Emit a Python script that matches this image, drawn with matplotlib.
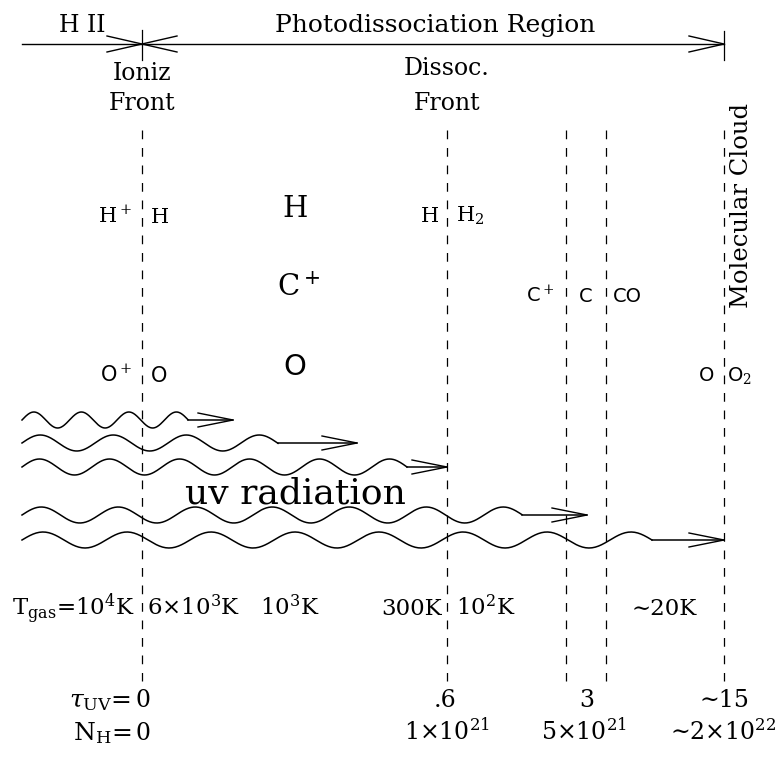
import matplotlib
matplotlib.use("Agg")
import matplotlib.pyplot as plt
import numpy as np

plt.rcParams['font.family'] = ['DejaVu Serif', 'DejaVu Sans']
plt.rcParams['mathtext.fontset'] = 'dejavuserif'

# positions of the fronts along the slab (pixel scale of the sketch)
front_names = ["ioniz", "dissoc", "c_plus_c", "c_co", "mol_cloud"]
front_x = [142, 447, 566, 606, 724]

# uv photons: centre line, wavelength, where the wiggle stops, arrow tip
wave_y = [420, 443, 467, 515, 540]
wave_period = [47.5, 73, 70, 77, 84]
wave_end = [188, 278, 407, 522, 652]
wave_tip = [233, 357, 447, 587, 724]

# temperatures
temp_labels = [r'T$_{\rm gas}$=10$^4$K', r'6$\times$10$^3$K', r'10$^3$K',
               '300K', r'10$^2$K', '\u223c20K']
temp_x = [135, 147, 290, 442, 456, 664]
temp_ha = ['right', 'left', 'center', 'right', 'left', 'center']

# optical depth and column density at the fronts
tau_labels = ['0', '.6', '3', '\u223c15']
tau_x = [143, 445, 587, 724]
nh_labels = ['0', r'1$\times$10$^{21}$', r'5$\times$10$^{21}$', '\u223c2$\\times$10$^{22}$']
nh_x = [143, 447, 584, 723]

fig = plt.figure(figsize=(7.79, 7.58), dpi=100)
ax = fig.add_axes([0, 0, 1, 1])
ax.set_xlim(0, 779)
ax.set_ylim(758, 0)
ax.axis('off')

def head(ax, xt, y, d, L=35, w=8):
    # open arrow head, d=+1 points right, -1 points left
    ax.plot([xt - d*L, xt, xt - d*L], [y - w, y, y + w], color='k', lw=1.0)

# top bar: H II / Photodissociation Region
ax.plot([22, front_x[4]], [44, 44], color='k', lw=1.0)
head(ax, front_x[0], 44, 1)
head(ax, front_x[0], 44, -1)
head(ax, front_x[4], 44, 1)
ax.plot([front_x[0], front_x[0]], [30, 60], color='k', lw=0.9)
ax.plot([front_x[4], front_x[4]], [31, 60], color='k', lw=0.9)
ax.text(82, 32, 'H II', ha='center', va='baseline', fontsize=17)
ax.text(435, 32, 'Photodissociation Region', ha='center', va='baseline', fontsize=18)
ax.text(front_x[0], 80, 'Ioniz', ha='center', va='baseline', fontsize=17)
ax.text(front_x[0], 110, 'Front', ha='center', va='baseline', fontsize=17)
ax.text(front_x[1], 75, 'Dissoc.', ha='center', va='baseline', fontsize=17)
ax.text(front_x[1], 110, 'Front', ha='center', va='baseline', fontsize=17)
ax.text(742, 205, 'Molecular Cloud', ha='center', va='center', rotation=90, fontsize=17.5)

# dashed fronts
for x in front_x:
    ax.plot([x, x], [130, 681], color='k', lw=0.9, dashes=(7, 7))

# uv photons
for yc, P, xe, xt in zip(wave_y, wave_period, wave_end, wave_tip):
    xs = np.linspace(22, xe, 400)
    ys = yc - 8 * np.sin(2 * np.pi * (xs - 22) / P)
    ax.plot(xs, ys, color='k', lw=1.1)
    ax.plot([xe, xt], [yc, yc], color='k', lw=1.1)
    head(ax, xt, yc, 1, L=35, w=7)
ax.text(295, 503, 'uv radiation', ha='center', va='baseline', fontsize=26)

# species
ax.text(132, 223, r'H$^+$', ha='right', va='baseline', fontsize=15)
ax.text(151, 223, 'H', ha='left', va='baseline', fontsize=15)
ax.text(132, 382, r'O$^+$', ha='right', va='baseline', fontsize=15, family='DejaVu Sans')
ax.text(151, 382, 'O', ha='left', va='baseline', fontsize=15, family='DejaVu Sans')
ax.text(295, 217, 'H', ha='center', va='baseline', fontsize=21)
ax.text(277, 296, r'C$^+$', ha='left', va='baseline', fontsize=21)
ax.text(295, 375, 'O', ha='center', va='baseline', fontsize=21, family='DejaVu Sans')
ax.text(439, 222, 'H', ha='right', va='baseline', fontsize=15)
ax.text(456, 222, r'H$_2$', ha='left', va='baseline', fontsize=15)
ax.text(554, 302, r'C$^+$', ha='right', va='baseline', fontsize=14, family='DejaVu Sans')
ax.text(586, 302, 'C', ha='center', va='baseline', fontsize=14, family='DejaVu Sans')
ax.text(613, 302, 'CO', ha='left', va='baseline', fontsize=14, family='DejaVu Sans')
ax.text(714, 381, 'O', ha='right', va='baseline', fontsize=14, family='DejaVu Sans')
ax.text(727, 381, r'O$_2$', ha='left', va='baseline', fontsize=14, family='DejaVu Sans')

# bottom rows
for lab, x, ha in zip(temp_labels, temp_x, temp_ha):
    ax.text(x, 615, lab, ha=ha, va='baseline', fontsize=16.5)
ax.text(131, 707, r'$\tau_{\rm UV}$=', ha='right', va='baseline', fontsize=18)
ax.text(131, 740, r'N$_{\rm H}$=', ha='right', va='baseline', fontsize=18)
for lab, x in zip(tau_labels, tau_x):
    ax.text(x, 707, lab, ha='center', va='baseline', fontsize=17)
for lab, x in zip(nh_labels, nh_x):
    ax.text(x, 740, lab, ha='center', va='baseline', fontsize=17)

plt.savefig("out.png", dpi=100)
